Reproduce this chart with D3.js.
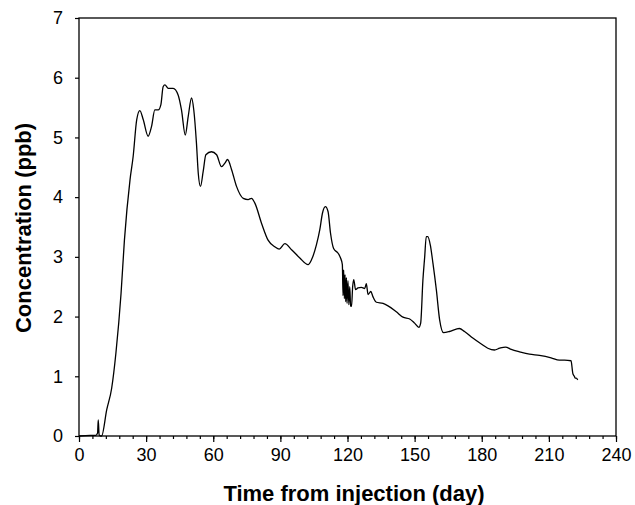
<!DOCTYPE html>
<html>
<head>
<meta charset="utf-8">
<script src="https://cdn.jsdelivr.net/npm/d3@7"></script>
<style>
  body { margin: 0; background: #fff; }
  .axis text { font-family: "Liberation Sans", Arial, sans-serif; font-size: 18px; fill: #000; }
  .axis line { stroke: #000; stroke-width: 1.2px; }
  .axisTitle { font-family: "Liberation Sans", Arial, sans-serif; font-size: 22px; font-weight: bold; fill: #000; }
</style>
</head>
<body>
<div class="chart"></div>
<script>
// data
var days = [0, 5, 7.5, 8.3, 8.6, 9.0, 9.7, 10.1, 12.4, 14.6, 16.5, 18.8, 20.3, 22.8, 24.2, 25.8,
  27.2, 28.7, 30.9, 32.4, 33.9, 35.4, 36.6, 37.6, 38.4, 39.9, 42.1, 44.3, 45.8, 47.5, 48.8,
  50.3, 51.3, 52.5, 53.3, 54.3, 55.5, 56.7, 59.2, 61.5, 63.7, 65.2, 66.4, 68.2, 70.4, 73.4,
  75.6, 77.1, 78.6, 81.6, 84.5, 87.5, 89.5, 92, 95, 98.7, 102.4, 103.9, 106.1, 107.6, 108.8,
  110.1, 111.3, 112.4, 113.8, 115.8, 116.8, 117.7, 118.0, 118.3, 118.6, 118.9, 119.2, 119.5,
  119.8, 120.2, 120.6, 121.0, 121.4, 121.8, 122.3, 122.8, 123.6, 124.7, 126.2, 127.7, 128.4,
  129.2, 130.4, 131.4, 132.9, 135.9, 138.1, 141.8, 144.8, 147.8, 150, 151.9, 152.7, 153.7,
  154.5, 155.2, 155.9, 157, 158.2, 159.7, 161.2, 162.9, 165.6, 168.6, 170, 172.3, 176, 179.8,
  182.7, 185.7, 188, 190.6, 193.2, 196.9, 201.3, 205.8, 211, 214.7, 217, 219.9, 220.7, 221.0,
  221.4, 221.7, 222.2, 222.9];
var conc = [0, 0.01, 0.01, 0.05, 0.27, 0.02, 0, 0.0, 0.44, 0.80, 1.39, 2.39, 3.28, 4.29, 4.68, 5.30,
  5.45, 5.30, 5.02, 5.18, 5.46, 5.46, 5.55, 5.85, 5.88, 5.82, 5.82, 5.71, 5.46, 5.04, 5.35,
  5.66, 5.46, 4.90, 4.40, 4.18, 4.43, 4.71, 4.76, 4.71, 4.51, 4.57, 4.63, 4.46, 4.18, 3.98,
  3.96, 3.98, 3.90, 3.56, 3.28, 3.17, 3.13, 3.22, 3.12, 2.98, 2.87, 2.95, 3.20, 3.45, 3.73,
  3.84, 3.76, 3.40, 3.14, 3.06, 2.99, 2.87, 2.35, 2.78, 2.30, 2.70, 2.25, 2.65, 2.22, 2.60,
  2.20, 2.50, 2.18, 2.17, 2.50, 2.62, 2.45, 2.48, 2.49, 2.47, 2.55, 2.37, 2.42, 2.33, 2.24,
  2.22, 2.18, 2.08, 1.99, 1.96, 1.89, 1.82, 1.89, 2.61, 3.00, 3.34, 3.34, 3.20, 2.89, 2.45,
  1.94, 1.73, 1.75, 1.79, 1.80, 1.75, 1.64, 1.54, 1.47, 1.44, 1.47, 1.49, 1.45, 1.41, 1.37,
  1.35, 1.31, 1.27, 1.27, 1.26, 1.05, 1.02, 1.00, 0.97, 0.97, 0.94];
var xTicks = [0, 30, 60, 90, 120, 150, 180, 210, 240];
var yTicks = [0, 1, 2, 3, 4, 5, 6, 7];

var svgWidth = 635;
var svgHeight = 505;
var margin = { top: 18, right: 19, bottom: 69, left: 79 };
var chartWidth = svgWidth - margin.left - margin.right;
var chartHeight = svgHeight - margin.top - margin.bottom;

var svg = d3.select(".chart")
  .append("svg")
  .attr("width", svgWidth)
  .attr("height", svgHeight);

var chartGroup = svg.append("g")
  .attr("transform", `translate(${margin.left}, ${margin.top})`);

var xScale = d3.scaleLinear().domain([0, 240]).range([0, chartWidth]);
var yScale = d3.scaleLinear().domain([0, 7]).range([chartHeight, 0]);

// minor x ticks every 6 days
chartGroup.append("g")
  .attr("class", "axis")
  .attr("transform", `translate(0, ${chartHeight})`)
  .call(d3.axisBottom(xScale).tickValues(d3.range(0, 241, 6)).tickSize(3).tickFormat(""))
  .call(g => g.select(".domain").remove());

chartGroup.append("g")
  .attr("class", "axis")
  .attr("transform", `translate(0, ${chartHeight})`)
  .call(d3.axisBottom(xScale).tickValues(xTicks).tickSize(6).tickPadding(6).tickFormat(d3.format("d")))
  .call(g => g.select(".domain").remove());

chartGroup.append("g")
  .attr("class", "axis")
  .call(d3.axisLeft(yScale).tickValues(yTicks).tickSize(4).tickPadding(12).tickFormat(d3.format("d")))
  .call(g => g.select(".domain").remove());

// frame
chartGroup.append("rect")
  .attr("width", chartWidth)
  .attr("height", chartHeight)
  .attr("fill", "none")
  .attr("stroke", "#000")
  .attr("stroke-width", 1.3);

var line = d3.line()
  .x((d, i) => xScale(days[i]))
  .y(d => yScale(d))
  .curve(d3.curveMonotoneX);

chartGroup.append("path")
  .datum(conc)
  .attr("d", line)
  .attr("fill", "none")
  .attr("stroke", "#000")
  .attr("stroke-width", 1.3);

// axis labels
svg.append("text")
  .attr("class", "axisTitle")
  .attr("transform", "rotate(-90)")
  .attr("x", -228)
  .attr("y", 31)
  .attr("text-anchor", "middle")
  .text("Concentration (ppb)");

svg.append("text")
  .attr("class", "axisTitle")
  .attr("x", 354)
  .attr("y", 501)
  .attr("text-anchor", "middle")
  .text("Time from injection (day)");
</script>
</body>
</html>
